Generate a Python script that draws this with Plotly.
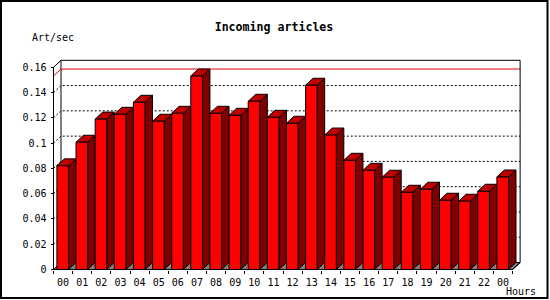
import plotly.graph_objects as go

# ---- data ----
hours = ["00", "01", "02", "03", "04", "05", "06", "07", "08", "09", "10", "11",
         "12", "13", "14", "15", "16", "17", "18", "19", "20", "21", "22", "00"]
rates = [0.0820, 0.1007, 0.1190, 0.1228, 0.1323, 0.1173, 0.1236, 0.1531,
         0.1236, 0.1220, 0.1331, 0.1204, 0.1157, 0.1458, 0.1064, 0.0864,
         0.0785, 0.0730, 0.0611, 0.0635, 0.0548, 0.0540, 0.0619, 0.0732]
y_ticks = [0, 0.02, 0.04, 0.06, 0.08, 0.10, 0.12, 0.14, 0.16]
y_top = 0.16

# ---- geometry / style ----
W, H = 550, 300
L, R, T, B = 48, 26, 52, 22
PX_X, X0 = 19.13, 53.5      # pixels per slot, pixel of x=0
PX_Y, Y0 = 1263.75, 269.5   # pixels per unit, pixel of y=0
pw, ph = W - L - R, H - T - B
xr = [(L - X0) / PX_X, (W - R - X0) / PX_X]
yr = [(Y0 - (H - B)) / PX_Y, (Y0 - T) / PX_Y]
DX, DY = 7.5 / PX_X, 7.0 / PX_Y
BA, BB = 3.4 / PX_X, 15.0 / PX_X
n = len(rates)
FONT = "DejaVu Sans Mono"


def px2paper_x(p):
    return (p - L) / pw


def px2paper_y(p):
    return ((H - B) - p) / ph


fig = go.Figure()


def poly_trace(polys, fill, lw=1):
    xs, ys = [], []
    for pts in polys:
        for (a, b) in pts:
            xs.append(a)
            ys.append(b)
        xs.append(pts[0][0])
        ys.append(pts[0][1])
        xs.append(None)
        ys.append(None)
    fig.add_trace(go.Scatter(x=xs, y=ys, mode="lines", fill="toself" if fill else None,
                             fillcolor=fill, line=dict(color="black", width=lw),
                             showlegend=False, hoverinfo="skip"))


def line_trace(xs, ys, color="black", dash="solid", width=1):
    fig.add_trace(go.Scatter(x=xs, y=ys, mode="lines",
                             line=dict(color=color, width=width, dash=dash),
                             showlegend=False, hoverinfo="skip"))


# floor
poly_trace([[(0, 0), (n, 0), (n + DX, DY), (DX, DY)]], "#808080")

# back-left wall edge
line_trace([DX, DX], [DY, y_top + DY])

# dotted grid lines on the back wall
for v in y_ticks[1:-1]:
    line_trace([0, DX, n + DX], [v, v + DY, v + DY], dash="2px,2px")

# max line
vmax = max(rates)
line_trace([0, DX, n + DX], [vmax, vmax + DY, vmax + DY], color="#E00000")

# back frame: top and right wall, floor right diagonal
line_trace([DX, n + DX, n + DX, n], [y_top + DY, y_top + DY, DY, 0])

# bars
sides, tops, fronts = [], [], []
for i, v in enumerate(rates):
    l, r = i + BA, i + BB
    fronts.append([(l, 0), (r, 0), (r, v), (l, v)])
    sides.append([(r, 0), (r + DX, DY), (r + DX, v + DY), (r, v)])
    tops.append([(l, v), (r, v), (r + DX, v + DY), (l + DX, v + DY)])
poly_trace(sides, "#800000")
poly_trace(tops, "#C00000")
poly_trace(fronts, "#FF0000")

# front axes lines
line_trace([DX, 0, 0, n], [y_top + DY, y_top, 0, 0])

fig.update_layout(
    width=W, height=H,
    margin=dict(l=L, r=R, t=T, b=B, pad=0),
    paper_bgcolor="white", plot_bgcolor="white",
    hovermode=False,
    font=dict(family=FONT, size=10, color="black"),
    title=dict(text="Incoming articles", xref="container", yref="container",
               x=274 / W, xanchor="center", y=1 - 27 / H, yanchor="middle",
               font=dict(family=FONT, size=11.6, color="black", weight="bold")),
    xaxis=dict(range=xr, domain=[0, 1], anchor="free", position=px2paper_y(Y0),
               showgrid=False, zeroline=False, showline=False,
               tickmode="array", tickvals=[i + 0.5 for i in range(n)], ticktext=hours,
               ticks="", ticklabelstandoff=5,
               tickfont=dict(family=FONT, size=10, color="black"),
               minor=dict(tickmode="linear", tick0=0, dtick=1, ticks="outside",
                          ticklen=3, tickwidth=1, tickcolor="black"),
               fixedrange=True),
    yaxis=dict(range=yr, domain=[0, 1], anchor="free", position=px2paper_x(X0),
               showgrid=False, zeroline=False, showline=False,
               tickmode="array", tickvals=y_ticks,
               ticks="outside", ticklen=3, tickwidth=1, tickcolor="black",
               ticklabelstandoff=2,
               tickfont=dict(family=FONT, size=10, color="black"),
               fixedrange=True),
    annotations=[
        dict(text="Art/sec", xref="paper", yref="paper", x=px2paper_x(30), y=px2paper_y(37),
             xanchor="left", yanchor="middle", showarrow=False,
             font=dict(family=FONT, size=10, color="black")),
        dict(text="Hours", xref="paper", yref="paper", x=px2paper_x(504), y=px2paper_y(291),
             xanchor="left", yanchor="middle", showarrow=False,
             font=dict(family=FONT, size=10, color="black")),
    ],
    shapes=[dict(type="rect", xref="paper", yref="paper",
                 x0=px2paper_x(1), x1=px2paper_x(547.5),
                 y0=px2paper_y(298), y1=px2paper_y(1),
                 line=dict(color="black", width=2), fillcolor="rgba(0,0,0,0)")],
)

fig.write_html("out.html")
